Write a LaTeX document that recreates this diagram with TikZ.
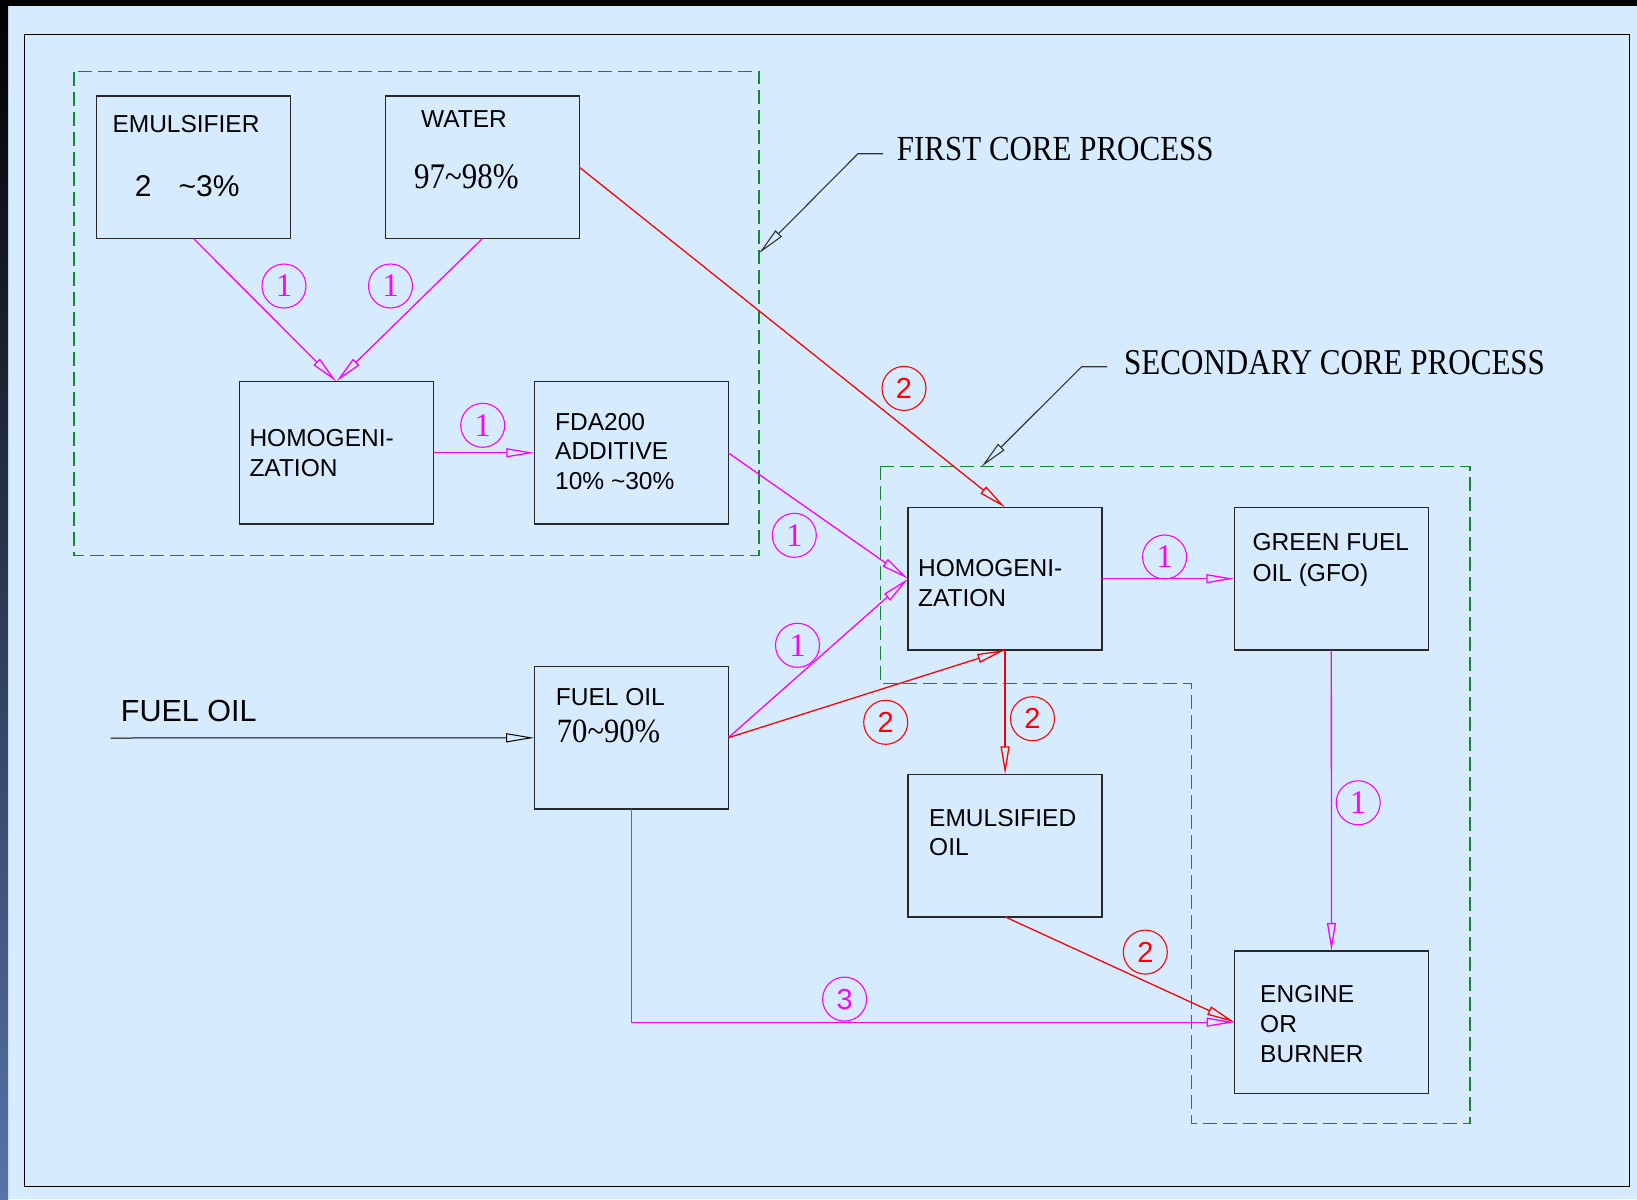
\documentclass[tikz,border=0pt]{standalone}
\usepackage{fontspec}
\setmainfont{Liberation Sans}
\newfontfamily\serifw{Liberation Serif}
\usetikzlibrary{arrows.meta}
\definecolor{bgblue}{RGB}{214,235,254}
\definecolor{mag}{RGB}{255,0,255}
\definecolor{redl}{RGB}{255,0,0}
\definecolor{grn}{RGB}{20,135,50}
\definecolor{boxgray}{RGB}{40,40,40}
\definecolor{stripblue}{RGB}{88,115,168}
\newcommand\vlines[2]{\vtop{\baselineskip=#1\relax #2}}
\tikzset{
 blk/.style={draw=boxgray, line width=1.3pt, minimum width=194pt, minimum height=142.5pt, inner sep=0pt, outer sep=0pt},
 lbl/.style={anchor=base west, inner sep=0pt, font=\fontsize{24.5}{30}\selectfont},
 opentip/.style={-{Triangle[open, length=28pt, width=9pt]}},
 mline/.style={draw=mag, line width=1.3pt, opentip},
 rline/.style={draw=redl, line width=1.3pt, opentip},
 num/.style={circle, draw=mag, line width=1.1pt, minimum size=44pt, inner sep=0pt, text=mag, font=\serifw\fontsize{33}{33}\selectfont},
 rnum/.style={num, draw=redl, text=redl, font=\fontsize{29}{29}\selectfont},
 grp/.style={draw=grn, line width=1.3pt, dash pattern=on 14pt off 6pt},
 callout/.style={draw=black!80, line width=1.1pt, opentip},
 serift/.style={anchor=base west, inner sep=0pt},
}
\begin{document}
\begin{tikzpicture}[x=1pt,y=-1pt]
\useasboundingbox (0,0) rectangle (1637,1199);
% background
\fill[bgblue] (0,0) rectangle (1637,1199);
\fill[black] (0,0) rectangle (1637,6);
\shade[top color=black, middle color={rgb,255:red,25;green,35;blue,60}, bottom color=stripblue] (0,0) rectangle (8,1199);
% frame
\draw[black, line width=1.5pt] (24.7,34.3) rectangle (1629.5,1186.7);
% groups
\draw[grp] (74,71.5) rectangle (759,555.3);
\draw[grp] (880.4,466.7) -- (1470,466.7) -- (1470,1123.7) -- (1191.8,1123.7) -- (1191.8,683.3) -- (880.4,683.3) -- cycle;
% boxes
\node[blk] (emul) at (193.5,167.3) {};
\node[blk] (water) at (482.5,167.3) {};
\node[blk] (homo1) at (336.3,452.8) {};
\node[blk] (fda) at (631.3,452.8) {};
\node[blk] (homo2) at (1005.1,578.7) {};
\node[blk] (gfo) at (1331.3,578.7) {};
\node[blk] (fuel) at (631.2,737.8) {};
\node[blk] (emuls) at (1005.1,845.6) {};
\node[blk] (engine) at (1331.5,1022.2) {};
% box texts
\node[lbl] (temul) at (112.3,132.3) {EMULSIFIER};
\node[serift] (temulp) at (134.7,196.7) {\fontsize{30}{30}\selectfont 2\hspace{27pt}\textasciitilde 3\%};
\node[lbl] (twater) at (420.9,127.5) {WATER};
\node[serift] (twaterp) at (414,188.3) {\scalebox{0.86}[1]{\serifw\fontsize{36}{36}\selectfont 97\textasciitilde 98\%}};
\node[lbl] (thomo1) at (249.3,446.7) {\vlines{30pt}{\hbox{HOMOGENI-}\hbox{ZATION}}};
\node[lbl] (tfda) at (555,430.3) {\vlines{29.5pt}{\hbox{FDA200}\hbox{ADDITIVE}\hbox{10\% \textasciitilde 30\%}}};
\node[lbl] (thomo2) at (917.9,576.7) {\vlines{30pt}{\hbox{HOMOGENI-}\hbox{ZATION}}};
\node[lbl] (tgfo) at (1252.3,550.7) {\vlines{30.3pt}{\hbox{GREEN FUEL}\hbox{OIL (GFO)}}};
\node[lbl] (tfuel) at (555.7,705) {FUEL OIL};
\node[serift] (tfuelp) at (556.7,742.3) {\scalebox{0.9}[1]{\serifw\fontsize{34}{34}\selectfont 70\textasciitilde 90\%}};
\node[lbl] (temuls) at (929,826) {\vlines{29.5pt}{\hbox{EMULSIFIED}\hbox{OIL}}};
\node[lbl] (tengine) at (1260,1002.7) {\vlines{30pt}{\hbox{ENGINE}\hbox{OR}\hbox{BURNER}}};
\node[serift] (tfuelin) at (120.7,721) {\fontsize{30.5}{30.5}\selectfont FUEL OIL};
% callouts
\coordinate (fc1) at (883,153.7);
\coordinate (fc2) at (858,153.7);
\coordinate (fc3) at (759,253.3);
\draw[callout] (fc1) -- (fc2) -- (fc3);
\node[serift] (fcp) at (896.7,160.7) {\scalebox{0.88}[1]{\serifw\fontsize{35.2}{36}\selectfont FIRST CORE PROCESS}};
\coordinate (sc1) at (1107,366.7);
\coordinate (sc2) at (1081.6,366.7);
\coordinate (sc3) at (981.5,466.7);
\draw[callout] (sc1) -- (sc2) -- (sc3);
\node[serift] (scp) at (1124,374) {\scalebox{0.855}[1]{\serifw\fontsize{36.3}{37}\selectfont SECONDARY CORE PROCESS}};
% connectors
\draw[mline] (emul.south) -- (homo1.north);
\draw[mline] (water.south) -- (homo1.north);
\draw[mline] (homo1.east) -- (fda.west);
\draw[rline] (water.east) -- (homo2.north);
\draw[mline] (fda.east) -- (homo2.west);
\draw[mline] (fuel.east) -- (homo2.west);
\draw[rline] (fuel.east) -- (homo2.south);
\draw[rline] (homo2.south) -- (emuls.north);
\draw[mline] (homo2.east) -- (gfo.west);
\draw[mline] (gfo.south) -- (engine.north);
\draw[rline] (emuls.south) -- (engine.west);
\draw[mline] (fuel.south) |- (engine.west);
\coordinate (fin) at (110.7,738);
\draw[black, line width=1pt, opentip] (fin) -- (fuel.west);
% circled numbers
\node[num] (n1) at (284,286) {1};
\node[num] (n2) at (390.5,286) {1};
\node[num] (n3) at (482.7,425.3) {1};
\node[rnum] (n4) at (904,388.4) {2};
\node[num] (n5) at (794.3,535.3) {1};
\node[num] (n6) at (797.5,645.3) {1};
\node[rnum] (n7) at (885.7,722.3) {2};
\node[rnum] (n8) at (1032.5,718.7) {2};
\node[num] (n9) at (1164.6,557) {1};
\node[num] (n10) at (1358.2,802.8) {1};
\node[rnum] (n11) at (1145.3,952.1) {2};
\node[num, font=\fontsize{29}{29}\selectfont] (n12) at (844.6,999.1) {3};
\end{tikzpicture}
\end{document}
